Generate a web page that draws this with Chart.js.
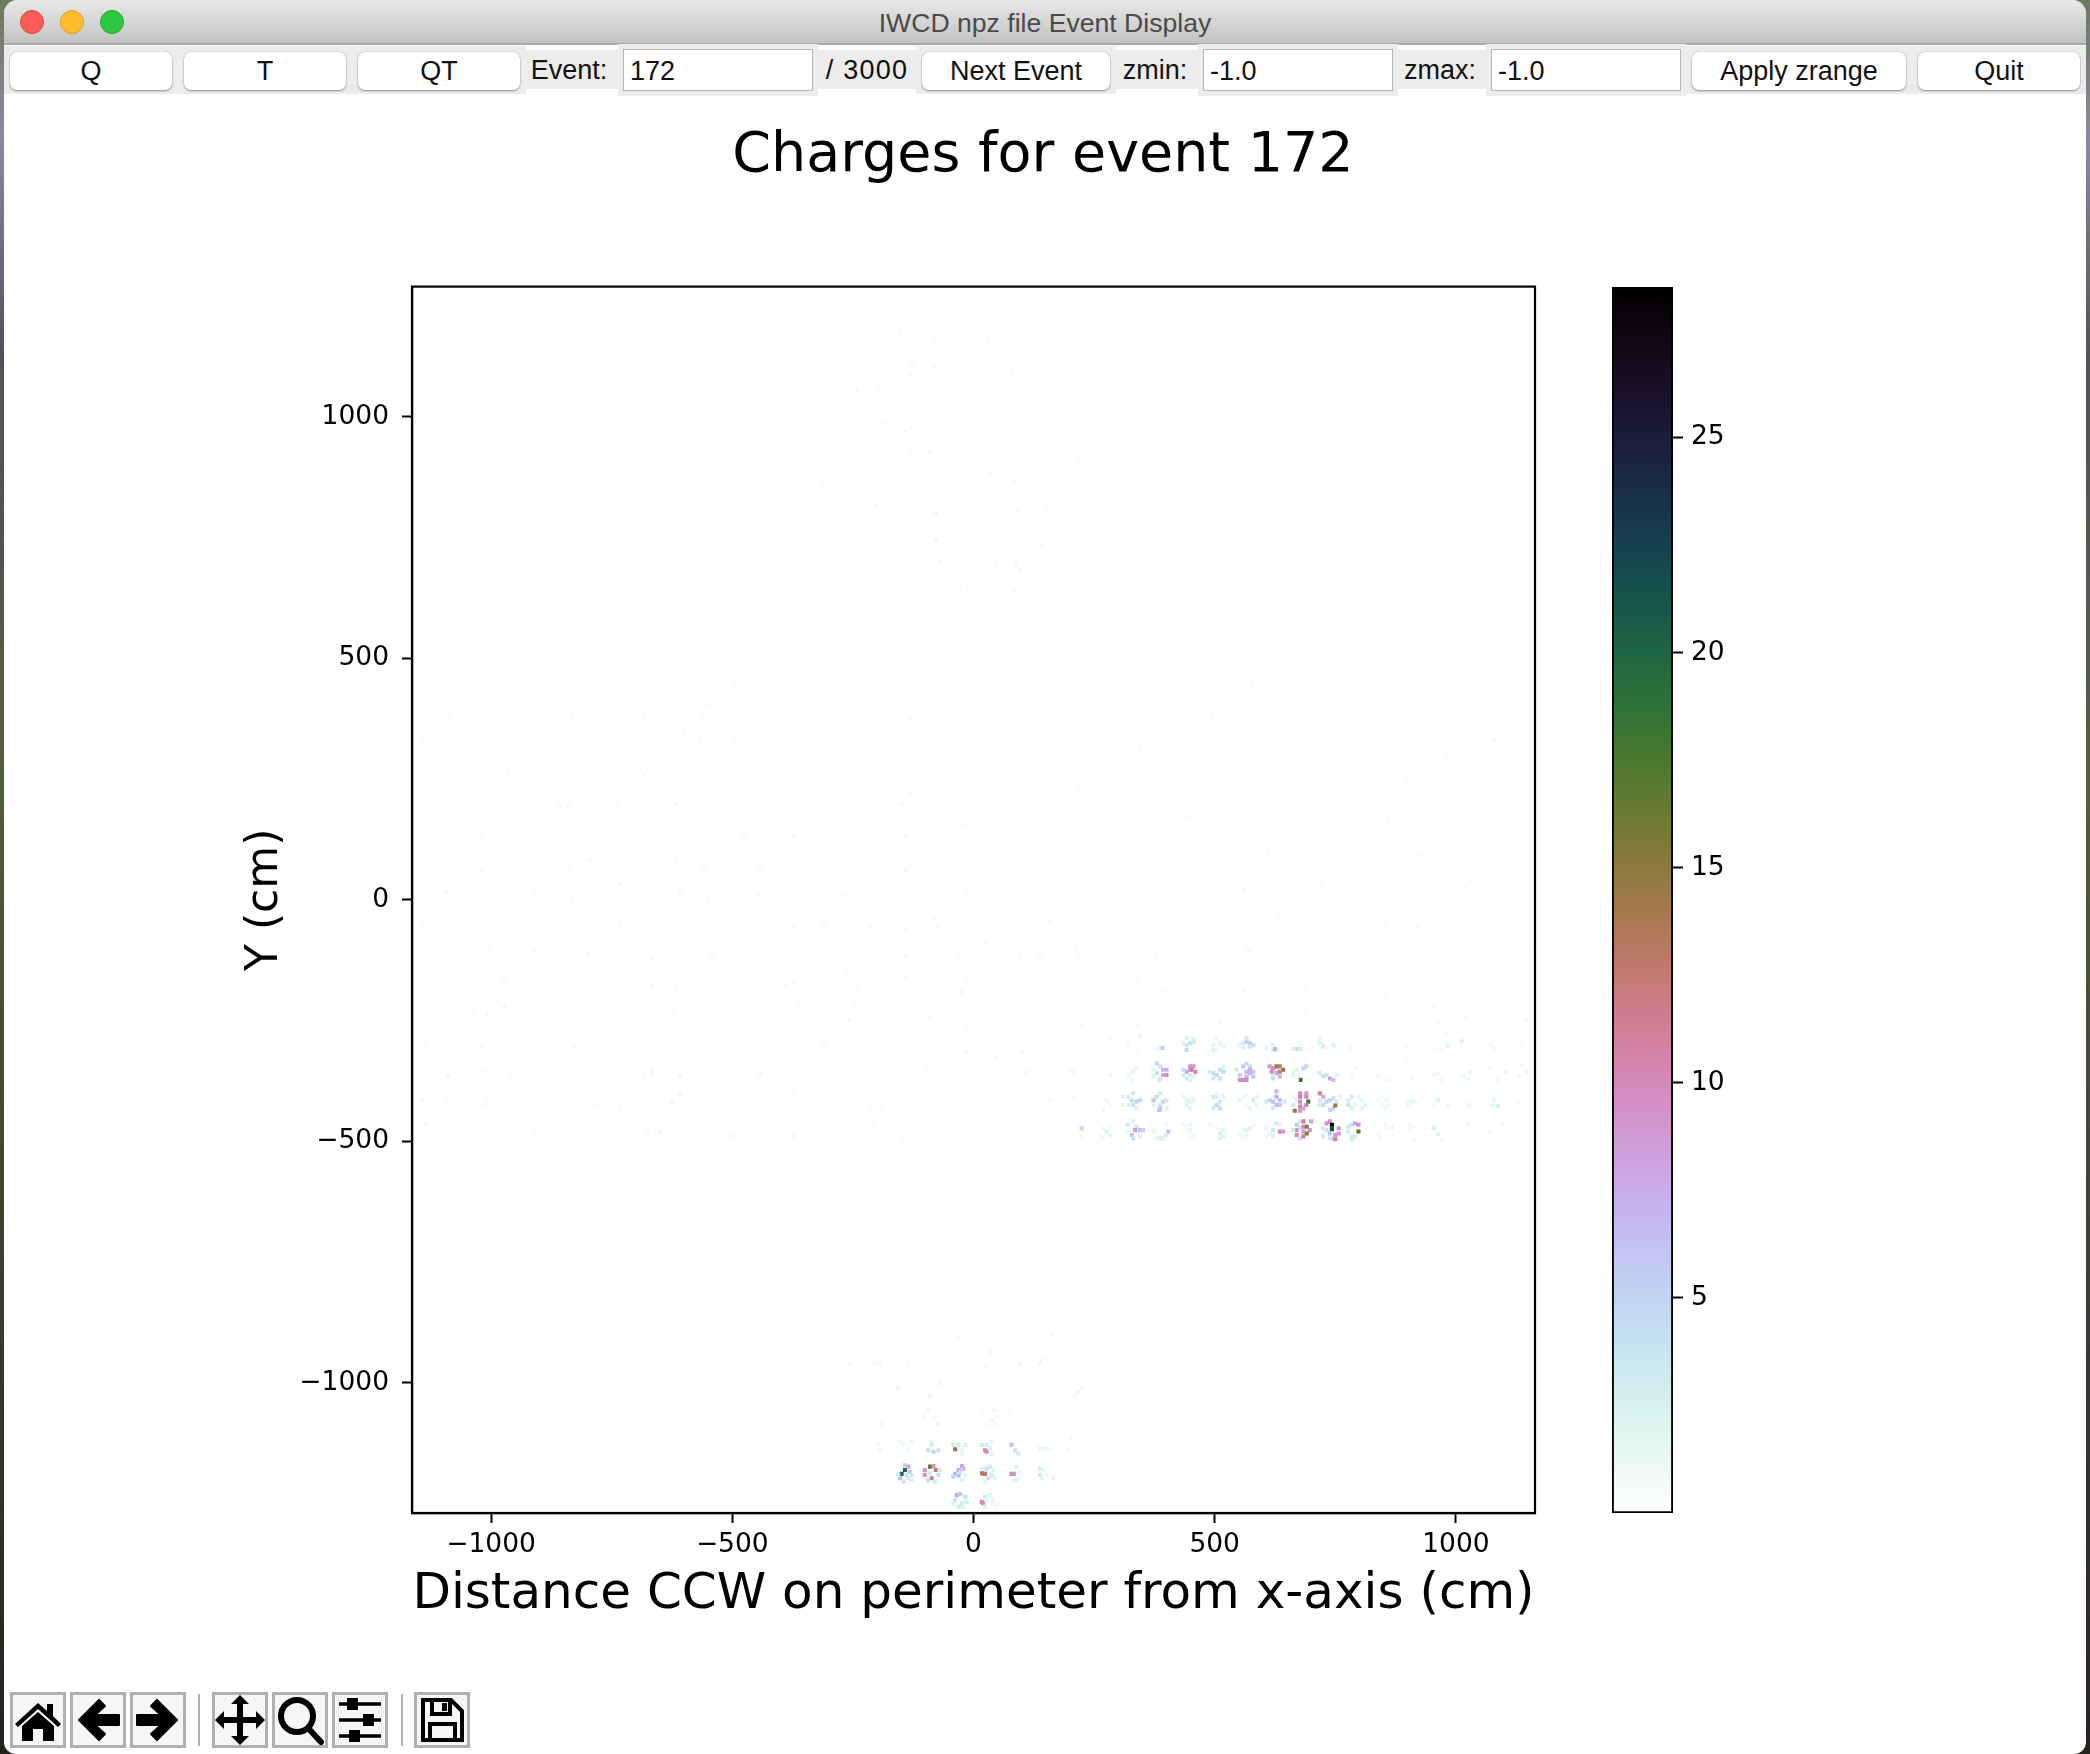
<!DOCTYPE html>
<html>
<head>
<meta charset="utf-8">
<title>IWCD npz file Event Display</title>
<script src="https://cdn.jsdelivr.net/npm/chart.js@4"></script>
<style>
html, body { margin: 0; padding: 0; width: 2090px; height: 1754px; overflow: hidden; }
body { background: linear-gradient(#6d7a5c 0, #8d87a5 8%, #54505c 20%, #4f5e3c 45%, #3c3a2e 75%, #26221c 100%); font-family: "Liberation Sans", sans-serif; }
#win { position: absolute; left: 4px; top: 0; width: 2082px; height: 1754px; background: #fff; border-radius: 14px 14px 12px 12px; overflow: hidden; }
.abs { position: absolute; }
#titlebar { left: 0; top: 0; width: 2082px; height: 43px; background: linear-gradient(#e8e8e8, #c3c3c3); border-bottom: 2px solid #a8a8a8; text-align: center; font-size: 26.6px; line-height: 46px; color: #4a4a4a; }
.light { width: 24px; height: 24px; border-radius: 50%; top: 10px; }
.grey { background: #ececec; }
.btn { top: 52px; height: 38px; background: #fff; border-radius: 7px; box-shadow: 0 1px 2px #8f8f8f, 0 0 1px #aaa; text-align: center; font-size: 27px; line-height: 38px; color: #111; }
.lbl { top: 50px; height: 39px; background: #ececec; font-size: 27px; line-height: 40px; color: #111; text-align: center; }
.entry { top: 49px; height: 40px; background: #fff; border: 1px solid #b4b4b4; font-size: 27px; line-height: 42px; color: #111; padding-left: 6px; box-sizing: content-box; width: 182px; }
.tool { top: 1692px; width: 50px; height: 50px; border: 3px solid #b0b0b0; background: #f6f6f6; }
.sep { top: 1694px; width: 2px; height: 52px; background: #b0b0b0; }
canvas { position: absolute; filter: blur(0.5px); }
</style>
</head>
<body>
<div id="win">
  <div class="abs" id="titlebar">IWCD npz file Event Display</div>
  <div class="abs light" style="left:16px;background:#fc5d57;border:1px solid #e2463f;box-sizing:border-box"></div>
  <div class="abs light" style="left:56px;background:#fdbc2e;border:1px solid #dfa023;box-sizing:border-box"></div>
  <div class="abs light" style="left:96px;background:#2cc83f;border:1px solid #1dac2c;box-sizing:border-box"></div>

  <div class="abs grey" style="left:0;top:46px;width:522px;height:48px"></div>
  <div class="abs grey" style="left:614px;top:44px;width:200px;height:52px"></div>
  <div class="abs grey" style="left:912px;top:46px;width:200px;height:48px"></div>
  <div class="abs grey" style="left:1194px;top:44px;width:200px;height:52px"></div>
  <div class="abs grey" style="left:1482px;top:44px;width:200px;height:52px"></div>
  <div class="abs grey" style="left:1682px;top:46px;width:400px;height:48px"></div>

  <div class="abs btn" style="left:6px;width:162px">Q</div>
  <div class="abs btn" style="left:180px;width:162px">T</div>
  <div class="abs btn" style="left:354px;width:162px">QT</div>
  <div class="abs lbl" style="left:522px;width:86px">Event:</div>
  <div class="abs lbl" style="left:608px;width:6px"></div>
  <div class="abs entry" style="left:619px">172</div>
  <div class="abs lbl" style="left:814px;width:98px;letter-spacing:1.2px">/ 3000</div>
  <div class="abs btn" style="left:918px;width:188px">Next Event</div>
  <div class="abs lbl" style="left:1112px;width:78px">zmin:</div>
  <div class="abs lbl" style="left:1190px;width:4px"></div>
  <div class="abs entry" style="left:1199px">-1.0</div>
  <div class="abs lbl" style="left:1394px;width:84px">zmax:</div>
  <div class="abs lbl" style="left:1478px;width:4px"></div>
  <div class="abs entry" style="left:1487px">-1.0</div>
  <div class="abs btn" style="left:1688px;width:214px">Apply zrange</div>
  <div class="abs btn" style="left:1914px;width:162px">Quit</div>

  <canvas id="hitChart" width="2090" height="1584" style="left:-4px;top:96px;width:2090px;height:1584px"></canvas>
  <canvas id="barChart" width="300" height="1300" style="left:1536px;top:250px;width:300px;height:1300px"></canvas>

  <div class="abs tool" style="left:6px"><svg width="50" height="50" viewBox="0 0 50 50"><path d="M2 29 L25 8 L34 16 V9 H40 V21 L48 29 L45 32 L25 14 L5 32Z M9 31 L25 17 L41 31 V46 H30 V34 H20 V46 H9Z" fill="#000"/></svg></div>
  <div class="abs tool" style="left:66px"><svg width="50" height="50" viewBox="0 0 50 50"><path d="M26 5 L32 11 L22 20 H46 V30 H22 L32 39 L26 45 L6 25Z" fill="#000" stroke="#000" stroke-width="2" stroke-linejoin="round"/></svg></div>
  <div class="abs tool" style="left:126px"><svg width="50" height="50" viewBox="0 0 50 50"><path d="M24 5 L18 11 L28 20 H4 V30 H28 L18 39 L24 45 L44 25Z" fill="#000" stroke="#000" stroke-width="2" stroke-linejoin="round"/></svg></div>
  <div class="abs sep" style="left:194px"></div>
  <div class="abs tool" style="left:208px"><svg width="50" height="50" viewBox="0 0 50 50"><path d="M25 0 L34 9 H28 V22 H41 V16 L50 25 L41 34 V28 H28 V41 H34 L25 50 L16 41 H22 V28 H9 V34 L0 25 L9 16 V22 H22 V9 H16Z" fill="#000"/></svg></div>
  <div class="abs tool" style="left:268px"><svg width="50" height="50" viewBox="0 0 50 50"><circle cx="22" cy="21" r="16" fill="none" stroke="#000" stroke-width="6"/><path d="M33 33 L46 47" stroke="#000" stroke-width="6" stroke-linecap="round"/></svg></div>
  <div class="abs tool" style="left:328px"><svg width="50" height="50" viewBox="0 0 50 50"><path d="M4 9 H46 M4 25 H46 M4 41 H46" stroke="#000" stroke-width="3.5"/><rect x="12" y="3" width="11" height="12" fill="#000"/><rect x="28" y="19" width="11" height="12" fill="#000"/><rect x="14" y="35" width="11" height="12" fill="#000"/></svg></div>
  <div class="abs sep" style="left:397px"></div>
  <div class="abs tool" style="left:410px"><svg width="50" height="50" viewBox="0 0 50 50"><path d="M6 5 H34 L45 16 V45 H6Z" fill="none" stroke="#000" stroke-width="4"/><path d="M15 5 V19 H33 V5" fill="none" stroke="#000" stroke-width="4"/><rect x="25" y="8" width="5" height="8" fill="#000"/><path d="M13 45 V29 H38 V45" fill="none" stroke="#000" stroke-width="4"/></svg></div>
</div>

<script>
// charge scale limits and tick labels
const zMin = 0;
const zMax = 28.5;
const xTicks = [-1000, -500, 0, 500, 1000];
const yTicks = [-1000, -500, 0, 500, 1000];
const zTicks = [5, 10, 15, 20, 25];
const titleText = 'Charges for event 172';
const xLabel = 'Distance CCW on perimeter from x-axis (cm)';
const yLabel = 'Y (cm)';

// hits as x (cm), y (cm), charge
const topHits = [
  [-151,1178,.7],[-82,1163,.4],[31,1157,.7],[84,1163,.3],[-128,1112,.6],[-82,1103,.7],[-132,1090,.7],[79,1095,.5],[155,1112,.5],[224,1095,.3],
  [-199,1062,.7],[-243,1053,.8],[-218,1045,.3],[84,1045,.3],[-190,986,.6],[-206,973,.3],[-140,970,.7],[-127,978,.4],[169,986,.5],
  [-299,927,.5],[-204,921,.5],[-132,927,.3],[-127,918,.7],[-90,927,.8],[88,935,.7],[219,912,.5],[-67,875,.3],[34,884,.7],[84,867,.8],[102,867,.5],[136,867,.4],[145,884,.2],[-312,859,.5],
  [-199,826,.4],[-204,817,.7],[-78,801,1],[91,807,.7],[152,808,.5],[161,823,.4],[-78,743,1.2],[143,734,.8],[-67,699,.6],[48,699,.5],[88,698,.8],[201,705,.5],[96,683,.6],[-204,683,.3],[-132,676,.2],
  [-144,639,.6],[-28,639,.6],[-10,639,.5],[84,639,.7],[-144,622,.2],[-28,622,.3],[-15,587,.5]
];
const leftHits = [
  [-973,446,.5],[-724,454,.5],[-496,450,.5],[-1085,378,.4],[-833,378,.4],[-800,392,.5],[-683,384,.4],[-549,402,.5],[-563,384,.4],[-131,378,.8],
  [-600,345,.7],[-567,330,.5],[-551,321,.4],[-496,334,.4],[-301,338,.4],[-1143,326,.4],[-973,276,.3],[-965,263,.5],[-840,249,.5],[-770,259,.4],[-683,259,.5],[-674,272,.5],[-622,259,.4],[-125,259,.4],
  [-131,220,.8],[-148,200,.6],[-1135,189,.5],[-857,195,.6],[-840,195,.7],[-793,191,.5],[-739,195,.5],[-616,200,.6],[-366,200,.5],[-256,189,.5],
  [-550,158,.4],[-1089,135,.5],[-1018,133,.5],[-840,143,.5],[-798,143,.5],[-476,135,.6],[-372,133,.6],[-140,133,1],
  [-616,85,.5],[-793,85,.6],[-800,81,.4],[-484,95,.2],[-840,71,.7],[-1018,62,.6],[-558,66,.6],[-442,66,.6],[-140,62,1.1],
  [-733,34,.8],[-1093,17,.6],[-909,21,.5],[-608,14,.8],[-832,4,.4],[-550,2,.5],[-447,9,.6],[-272,9,.6],[-484,34,.2],
  [-674,-41,.7],[-1143,-49,.5],[-857,-53,.5],[-791,-49,.5],[-733,-49,.5],[-534,-43,.4],[-959,-61,.5],[-484,-57,.4],[-380,-41,.5],[-372,-53,.6],[-310,-49,.6],[-214,-53,.6],[-140,-61,.9],[-82,-37,.6],[-73,-57,.6],
  [-658,-93,.5],[-1002,-99,.5],[-909,-103,.8],[-799,-110,.7],[-426,-93,.4],[-264,-93,.4],[-1135,-124,.5],[-959,-124,.4],[-666,-124,.7],[-542,-119,.7],[-140,-116,.9],[-324,-119,.3],
  [-1060,-161,.5],[-973,-161,.7],[-950,-173,.4],[-791,-173,.4],[-666,-177,.9],[-608,-153,.3],[-616,-184,.4],[-490,-161,.4],[-426,-165,.5],[-389,-177,.8],[-372,-169,.6],[-264,-153,.4],[-243,-177,.7],[-140,-161,1],[-125,-177,.4],[-206,-173,.2],
  [-1018,-223,.5],[-973,-223,.9],[-1010,-235,.6],[-1085,-238,.5],[-1035,-231,.4],[-900,-240,.3],[-733,-244,.3],[-622,-224,.4],[-622,-240,.4],[-364,-217,.5],[-248,-217,.4],[-243,-240,.5],[-256,-248,.6],[-90,-244,.6],
  [-1135,-297,.4],[-1018,-303,.7],[-973,-303,.5],[-965,-309,.5],[-828,-303,.6],[-791,-289,.5],[-666,-285,.3],[-608,-297,.2],[-310,-298,.6],[-498,-309,.3],
  [-1089,-365,.9],[-1083,-352,.4],[-1018,-356,.6],[-974,-352,.5],[-959,-365,.4],[-832,-342,.4],[-666,-356,1],[-683,-365,.4],[-608,-365,.8],[-592,-356,.7],[-442,-360,.6],[-417,-356,.5],[-206,-342,.4],[-183,-356,.4],[-206,-360,.3],[-96,-348,.5],
  [-1143,-414,.8],[-1093,-419,.4],[-1018,-427,.7],[-1010,-404,.4],[-1010,-423,.6],[-776,-423,.5],[-784,-427,.4],[-733,-433,.5],[-608,-402,.8],[-625,-419,.8],[-592,-419,.3],[-536,-427,.4],[-374,-402,.5],[-243,-410,.3],[-214,-427,.4],[-190,-433,.5],[-190,-404,.4],
  [-1135,-464,.6],[-1018,-466,.5],[-965,-485,.3],[-909,-485,.5],[-724,-472,.5],[-674,-481,.6],[-650,-481,.8],[-660,-477,.4],[-550,-464,.2],[-505,-489,.8],[-490,-489,.4],[-372,-489,.8],[-206,-466,.4],[-148,-495,.4],[-71,-472,.4]
];
const centreHits = [
  [454,438,.7],[577,444,.4],[-16,388,.5],[494,379,.5],[337,330,.2],[344,313,.5],[1079,330,.8],[560,304,.3],[980,298,.5],
  [219,227,.5],[260,227,.5],[897,244,.4],[969,231,.4],[-16,156,.6],[444,171,.5],[569,167,.5],[859,167,.6],[1102,162,.3],
  [611,98,.5],[925,93,.5],[391,87,.1],[1096,87,.2],[1029,42,.4],[-16,16,.4],[560,22,.6],[720,32,.4],[978,26,.4],[1021,26,.4],
  [159,-44,.9],[95,-49,.2],[277,-53,.4],[569,-44,.6],[619,-21,.3],[635,-39,.6],[853,-49,.4],[922,-54,.5],
  [26,-91,.7],[212,-102,.4],[266,-107,.5],[-30,-114,.4],[95,-119,.5],[138,-119,.6],[219,-114,.4],[371,-107,.4],[378,-114,.5],[519,-107,.3],[569,-105,.7],[577,-107,.5],[728,-105,.3],[750,-119,.3],[1073,-119,.4],[1152,-93,.4],
  [-16,-164,.4],[-24,-191,.8],[341,-170,.5],[387,-190,.6],[399,-190,.5],[561,-190,.6],[664,-190,.4],[688,-185,.4],[720,-180,.3],[744,-194,.5],[729,-194,.4],[853,-199,.4],[913,-190,.5],
  [688,-231,.4],[219,-246,.3],[1146,-250,1],[-16,-266,.5],[43,-266,.4],[225,-259,.7],[341,-259,.7],[453,-255,.6],[511,-255,.7],[619,-259,.7],[664,-259,.2],[963,-255,.7],[969,-269,.4],
  [-16,-316,.6],[48,-329,1],[101,-316,.6],[227,-320,.4],[341,-312,.6],[337,-316,.5],[403,-320,.5],[486,-320,.6],[553,-334,.5],[610,-334,.6],[664,-329,.5],[688,-334,.5],[729,-334,.4],[898,-329,.4],[954,-312,.4],[1021,-334,.3],
  [110,-358,1],[48,-366,.5],[160,-414,.6],[112,-470,.5]
];
const rightHits = [
  [954,-222,1],[898,-240,.5],[1021,-243,.8],[979,-278,1],[983,-302,2],[1012,-293,2],[898,-302,.8],[1073,-302,1],[1079,-308,1],[1136,-297,.5],[969,-311,.7],
  [1137,-342,1],[1104,-356,1.2],[1073,-347,1],[1145,-356,1.2],[1029,-356,1.2],[1015,-365,1],[1026,-371,1],[1087,-373,.8],[1131,-365,.7],
  [956,-362,1],[963,-360,1],[969,-373,1],[908,-371,1],[853,-373,.8],
  [856,-414,1.5],[853,-431,2.5],[860,-425,1],[898,-418,1.2],[905,-418,1.2],[912,-418,1.5],[901,-425,1],
  [963,-414,2],[954,-427,1],[983,-427,1],[1028,-427,1.2],[1021,-423,.7],[1079,-414,1.5],[1077,-425,1.5],[1087,-427,2.5],[1129,-418,1],
  [853,-464,.8],[867,-472,1.2],[905,-468,1.2],[912,-472,1],[905,-476,.8],[954,-472,3],[963,-485,2],[913,-497,.8],[969,-497,.8],[1026,-464,.8],[1095,-466,.8],[1070,-481,1]
];
const bandRow1 = [
  [283,-287,1],[321,-297,.8],[345,-283,1.5],[387,-307,2],[392,-307,5.5],[380,-311,1],
  [442,-301,3.5],[449,-297,4],[456,-294,4.5],[435,-297,2],[442,-311,5],[442,-287,2],[456,-290,3],
  [497,-301,1.5],[504,-287,1],[511,-297,1.5],[497,-311,2],[518,-304,1.5],[504,-311,1],
  [559,-297,3],[566,-294,5.5],[573,-297,6],[580,-301,4],[566,-287,3],[573,-304,3],[559,-307,2],[552,-301,1.5],
  [607,-307,1.5],[621,-301,2],[628,-311,1],[621,-311,2],[625,-309,8],
  [670,-309,4],[677,-309,3],[677,-297,1],[663,-309,2],
  [718,-287,2],[718,-297,2],[725,-304,3],[746,-301,2],[732,-307,1],[783,-307,1]
];
const bandRow2 = [
  [200,-352,1],[207,-356,1],[283,-363,1],[331,-356,1.5],[338,-349,1.5],[321,-363,1],[328,-373,1],
  [380,-339,5],[387,-345,4],[393,-352,7],[400,-352,7.5],[400,-363,10],[393,-363,8],[380,-359,4],[387,-370,3],[373,-352,2],[385,-373,3],[373,-366,2],
  [442,-356,8],[449,-345,9],[456,-345,9],[449,-352,8],[449,-363,3],[435,-363,3],[456,-366,2],[442,-370,3],[449,-373,2],[452,-352,11.5],[460,-356,10.5],[435,-352,4],
  [497,-359,4],[504,-363,5],[511,-352,4],[518,-356,5],[511,-370,4],[497,-370,3],[518,-345,2],[490,-356,3],
  [545,-352,3],[559,-345,6],[566,-339,5],[573,-345,4],[566,-356,7],[573,-352,8],[580,-356,6],[566,-366,7],[552,-363,5],[580,-366,6],[552,-373,9],[559,-373,10],[566,-373,10],[573,-359,7],
  [614,-345,9],[621,-349,10],[628,-359,8],[635,-366,7],[621,-363,3],[621,-370,4],[628,-345,14],[635,-345,13],[642,-352,15],[635,-356,12],[618,-356,10],
  [663,-356,1.5],[670,-352,2],[677,-363,1],[678,-373,18],[684,-349,5],[690,-345,5],[663,-363,2],[670,-373,1],
  [718,-359,3],[732,-363,4],[739,-370,8],[746,-373,6],[725,-366,4],[753,-363,2],
  [784,-363,1],[791,-349,1],[784,-373,.7],[839,-366,1],[860,-373,.7]
];
const bandRow3 = [
  [207,-408,1],[276,-415,1],[283,-425,1],[269,-435,1],
  [310,-408,2],[321,-408,3],[328,-415,4.5],[338,-418,5],[345,-415,5],[331,-425,4],[321,-425,2],[310,-425,1.5],[331,-401,3],[338,-432,2],
  [373,-415,6],[380,-408,4],[387,-401,3],[393,-418,5],[400,-415,3],[387,-425,3],[387,-432,6],[385,-436,6],[373,-425,2],[400,-432,2],
  [435,-408,1.5],[442,-415,2],[449,-418,2],[456,-415,1.5],[442,-425,2],[449,-432,1.5],[456,-408,1],
  [497,-408,3],[504,-408,3],[511,-418,3],[504,-425,5],[497,-432,3],[511,-432,4],[518,-408,2],[504,-401,1],
  [552,-415,1.5],[559,-408,1],[566,-425,1.5],[580,-415,3],[573,-432,1.5],[587,-408,1.5],[566,-404,1],[587,-425,1.5],
  [614,-415,5],[621,-418,6],[628,-408,8],[635,-415,6.5],[628,-425,7],[635,-425,6],[621,-432,3],[628,-397,7],[607,-418,3],[645,-418,3],
  [663,-408,1],[663,-425,3],[670,-415,2],[677,-401,10],[677,-408,11],[677,-418,10],[677,-428,11],[677,-437,9],[666,-437,15],[690,-408,11],[694,-418,18],[690,-425,11],[684,-432,8],[690,-401,9],
  [718,-401,11],[725,-408,8],[732,-418,5],[739,-415,5],[725,-425,5],[746,-411,4],[746,-432,5],[753,-418,3],[739,-435,5],[750,-426,14.5],[718,-415,3],[718,-425,3],[760,-408,2],
  [777,-415,3],[784,-408,3],[777,-425,4],[784,-432,2.5],[791,-425,1.5],[805,-415,1.5],[798,-408,1.5],[805,-432,1.5],[812,-425,2],
  [839,-415,1],[846,-425,1],[860,-415,.8],[853,-432,.7],[846,-408,.8]
];
const bandRow4 = [
  [224,-473,5],[224,-490,1],[269,-473,1],[276,-480,2],[283,-470,1],[283,-487,1.5],[269,-494,1],[262,-490,1],
  [320,-466,3],[331,-459,2.5],[338,-470,4],[335,-477,9],[345,-477,6],[352,-477,5],[328,-487,6],[331,-494,4],[320,-480,2],[345,-490,2],
  [373,-480,1.5],[380,-494,1.5],[393,-494,2],[400,-466,1],[404,-480,6],[400,-487,3],[387,-494,2],
  [435,-466,1],[449,-466,1.5],[449,-477,1],[456,-487,1.5],[449,-494,1],
  [490,-466,1],[504,-473,1],[511,-484,3],[518,-477,2],[511,-494,2],[518,-490,2],
  [552,-487,1],[559,-477,1],[566,-490,1.5],[573,-473,2],[559,-494,1],[580,-466,1],[566,-477,2],
  [607,-473,1.5],[614,-484,1.5],[628,-463,3],[621,-477,3],[635,-466,2],[635,-480,10],[642,-480,9],[621,-490,2],[607,-490,1],
  [670,-466,6],[670,-477,10],[670,-487,10],[677,-459,3],[677,-473,4],[677,-494,4],[684,-459,11],[684,-470,10],[684,-480,9],[684,-490,11],[691,-470,15],[691,-484,15],[697,-477,10],[700,-459,8],[663,-477,3],
  [732,-463,9],[739,-459,9],[743,-466,28.5],[743,-475,22],[732,-477,4],[725,-473,3],[739,-484,6],[750,-487,9],[757,-484,9],[746,-494,6],[725,-490,3],[739,-494,3],[757,-473,9],[750,-496,11],
  [777,-480,3],[784,-466,4],[791,-463,8],[798,-466,10],[798,-480,17],[791,-490,3],[784,-490,3],[784,-497,3],[777,-470,3],
  [856,-473,.8],[870,-487,.8],[867,-470,1],[842,-490,1],[839,-480,.7]
];
const floorFaint = [
  [-33,-906,.6],[34,-936,1],[-254,-960,1],[-204,-960,.8],[-194,-960,.8],[-136,-960,.5],[26,-967,.7],[96,-960,1],[138,-960,1.2],[143,-952,.7],[161,-938,.5],[86,-901,.4],[165,-901,.8],
  [-68,-1002,1],[-156,-1010,1.5],[-185,-1019,.5],[-128,-1019,.7],[-90,-1027,1.2],[216,-1019,1.3],[225,-1010,1],[212,-1027,.8],[193,-1010,.5],
  [-92,-1057,1],[42,-1057,1.2],[-101,-1071,.8],[-83,-1071,.8],[-74,-1086,1.5],[-190,-1086,1],[-208,-1086,.6],[38,-1078,1.2],[44,-1086,1],[27,-1086,.8],[51,-1071,.6],[76,-1064,.5],[134,-1071,.5],[201,-1086,.6],[-156,-1062,.4],[20,-1062,.5]
];
const floorRow1 = [
  [-197,-1126,.8],[-194,-1140,.8],[-152,-1122,.8],[-135,-1140,1],[-128,-1122,1],[-145,-1126,1],
  [-87,-1122,2],[-94,-1140,4],[-83,-1143,5],[-73,-1140,4],[-87,-1129,3],
  [-42,-1129,3],[-31,-1129,3],[-17,-1129,2.5],[-38,-1138,15],[-24,-1140,1.5],[-24,-1147,1.5],
  [17,-1129,3],[27,-1129,3],[38,-1122,2],[24,-1140,10],[27,-1143,10],[34,-1136,2],[38,-1147,2],
  [79,-1129,6],[86,-1140,4],[93,-1147,3],[138,-1136,1.5],[148,-1136,1.5],[158,-1140,1],[203,-1115,.6],[196,-1136,.6]
];
const floorRow2 = [
  [-152,-1191,5],[-142,-1181,20],[-149,-1189,20],[-135,-1174,8],[-152,-1198,7],[-142,-1171,6],[-132,-1185,6],[-128,-1191,3],[-135,-1198,3],[-145,-1205,3],[-156,-1191,3],[-139,-1191,4],[-128,-1202,2],
  [-90,-1174,17],[-101,-1181,9],[-101,-1191,9],[-78,-1181,12],[-83,-1173,9],[-87,-1198,12],[-94,-1202,4],[-73,-1191,4],[-70,-1181,3],[-80,-1205,3],[-90,-1188,3],
  [-24,-1173,8],[-31,-1181,8],[-38,-1189,7],[-31,-1193,6],[-21,-1178,7],[-42,-1195,5],[-24,-1202,2],[-17,-1191,1.5],[-28,-1185,4],
  [18,-1188,14],[24,-1189,13],[27,-1178,4],[34,-1174,3],[38,-1191,3],[31,-1198,4],[41,-1181,2],[44,-1198,1.5],[24,-1205,1.5],[17,-1178,2],
  [79,-1189,10],[84,-1189,9],[89,-1174,2],[96,-1185,1.5],[89,-1202,2],[82,-1202,1.5],
  [138,-1178,3],[138,-1191,3],[145,-1181,1.5],[141,-1198,2],[165,-1198,1.5],[152,-1191,1]
];
const floorRow3 = [
  [-35,-1233,8],[-28,-1231,6],[-17,-1236,4],[-14,-1247,3],[-24,-1250,3],[-38,-1243,3],[-31,-1257,3],[-42,-1250,2],[-21,-1257,2],
  [24,-1236,3],[34,-1233,2],[17,-1247,10],[20,-1250,10],[27,-1243,2],[41,-1243,1],[24,-1257,2],[38,-1250,1],[48,-1254,1]
];

// cubehelix_r, same parameters as matplotlib's
function chargeColor(q) {
  const t = 1 - Math.min(Math.max(q / zMax, 0), 1);
  const a = t * (1 - t) / 2;
  const phi = 2 * Math.PI * (0.5 / 3 - 1.5 * t);
  const c = Math.cos(phi), s = Math.sin(phi);
  const r = t + a * (-0.14861 * c + 1.78277 * s);
  const g = t + a * (-0.29227 * c - 0.90649 * s);
  const b = t + a * (1.97294 * c);
  const to255 = v => Math.round(Math.min(Math.max(v, 0), 1) * 255);
  return `rgb(${to255(r)},${to255(g)},${to255(b)})`;
}

const allHits = [topHits, leftHits, centreHits, rightHits, floorFaint, bandRow1, bandRow2, bandRow3, bandRow4, floorRow1, floorRow2, floorRow3].flat();

const tickFont = { family: '"DejaVu Sans"', size: 26.5 };
const minusLabel = v => String(v).replace('-', '\u2212');

// box around the plot, chart.js only gives the two axis lines
const frame = {
  id: 'frame',
  afterDatasetsDraw(chart) {
    const { ctx, chartArea: a } = chart;
    ctx.save();
    ctx.strokeStyle = '#000';
    ctx.lineWidth = 2.2;
    ctx.strokeRect(a.left, a.top, a.right - a.left, a.bottom - a.top);
    ctx.restore();
  }
};

new Chart(document.getElementById('hitChart'), {
  type: 'scatter',
  data: {
    datasets: [{
      data: allHits.map(h => ({ x: h[0], y: h[1] })),
      pointStyle: 'rect',
      pointRadius: 2.9,
      pointBorderWidth: 0,
      pointBackgroundColor: allHits.map(h => chargeColor(h[2]))
    }]
  },
  plugins: [frame],
  options: {
    responsive: false,
    animation: false,
    layout: { padding: { left: 0, right: 4, top: 0, bottom: 0 } },
    plugins: {
      legend: { display: false },
      tooltip: { enabled: false },
      title: {
        display: true,
        text: titleText,
        color: '#000',
        font: { family: '"DejaVu Sans"', size: 55.5, weight: 'normal' },
        padding: { top: 27, bottom: 97 }
      }
    },
    scales: {
      x: {
        type: 'linear',
        min: -1164,
        max: 1164,
        afterFit: s => { s.height = 167; },
        afterBuildTicks: s => { s.ticks = xTicks.map(v => ({ value: v })); },
        border: { color: '#000', width: 2.2 },
        grid: { drawOnChartArea: false, tickColor: '#000', tickLength: 10, tickWidth: 2 },
        ticks: { color: '#000', font: tickFont, padding: 6, maxRotation: 0, autoSkip: false, callback: minusLabel },
        title: { display: true, text: xLabel, color: '#000', font: { family: '"DejaVu Sans"', size: 50 }, padding: { top: 0, bottom: 55 } }
      },
      y: {
        type: 'linear',
        min: -1270,
        max: 1270,
        afterFit: s => { s.width = 412; },
        afterBuildTicks: s => { s.ticks = yTicks.map(v => ({ value: v })); },
        border: { color: '#000', width: 2.2 },
        grid: { drawOnChartArea: false, tickColor: '#000', tickLength: 10, tickWidth: 2 },
        ticks: { color: '#000', font: tickFont, padding: 13, autoSkip: false, callback: minusLabel },
        title: { display: true, text: yLabel, color: '#000', font: { family: '"DejaVu Sans"', size: 44 }, padding: { top: 239, bottom: 0 } }
      },
      // empty axis keeps room for the colour bar while the title stays centred on the window
      pad: {
        type: 'linear',
        position: 'right',
        afterFit: s => { s.width = 551; },
        ticks: { display: false },
        grid: { display: false },
        border: { display: false }
      }
    }
  }
});

// colour bar: one floating bar filled with the charge gradient
function barGradient(context) {
  const area = context.chart.chartArea;
  if (!area) return '#fff';
  const grad = context.chart.ctx.createLinearGradient(0, area.bottom, 0, area.top);
  for (let i = 0; i <= 64; i++) grad.addColorStop(i / 64, chargeColor(zMin + (zMax - zMin) * i / 64));
  return grad;
}

new Chart(document.getElementById('barChart'), {
  type: 'bar',
  data: {
    labels: [''],
    datasets: [{
      data: [[zMin, zMax]],
      backgroundColor: barGradient,
      borderColor: '#000',
      borderWidth: 2.2,
      borderSkipped: false,
      barPercentage: 1,
      categoryPercentage: 1
    }]
  },
  options: {
    responsive: false,
    animation: false,
    layout: { padding: { left: 72, right: 107, top: 37, bottom: 37 } },
    plugins: { legend: { display: false }, tooltip: { enabled: false } },
    scales: {
      x: { display: false },
      y: {
        position: 'right',
        min: zMin,
        max: zMax,
        afterFit: s => { s.width = 60; },
        afterBuildTicks: s => { s.ticks = zTicks.map(v => ({ value: v })); },
        border: { display: false },
        grid: { drawOnChartArea: false, tickColor: '#000', tickLength: 10, tickWidth: 2 },
        ticks: { color: '#000', font: tickFont, padding: 8, autoSkip: false }
      }
    }
  }
});
</script>
</body>
</html>
